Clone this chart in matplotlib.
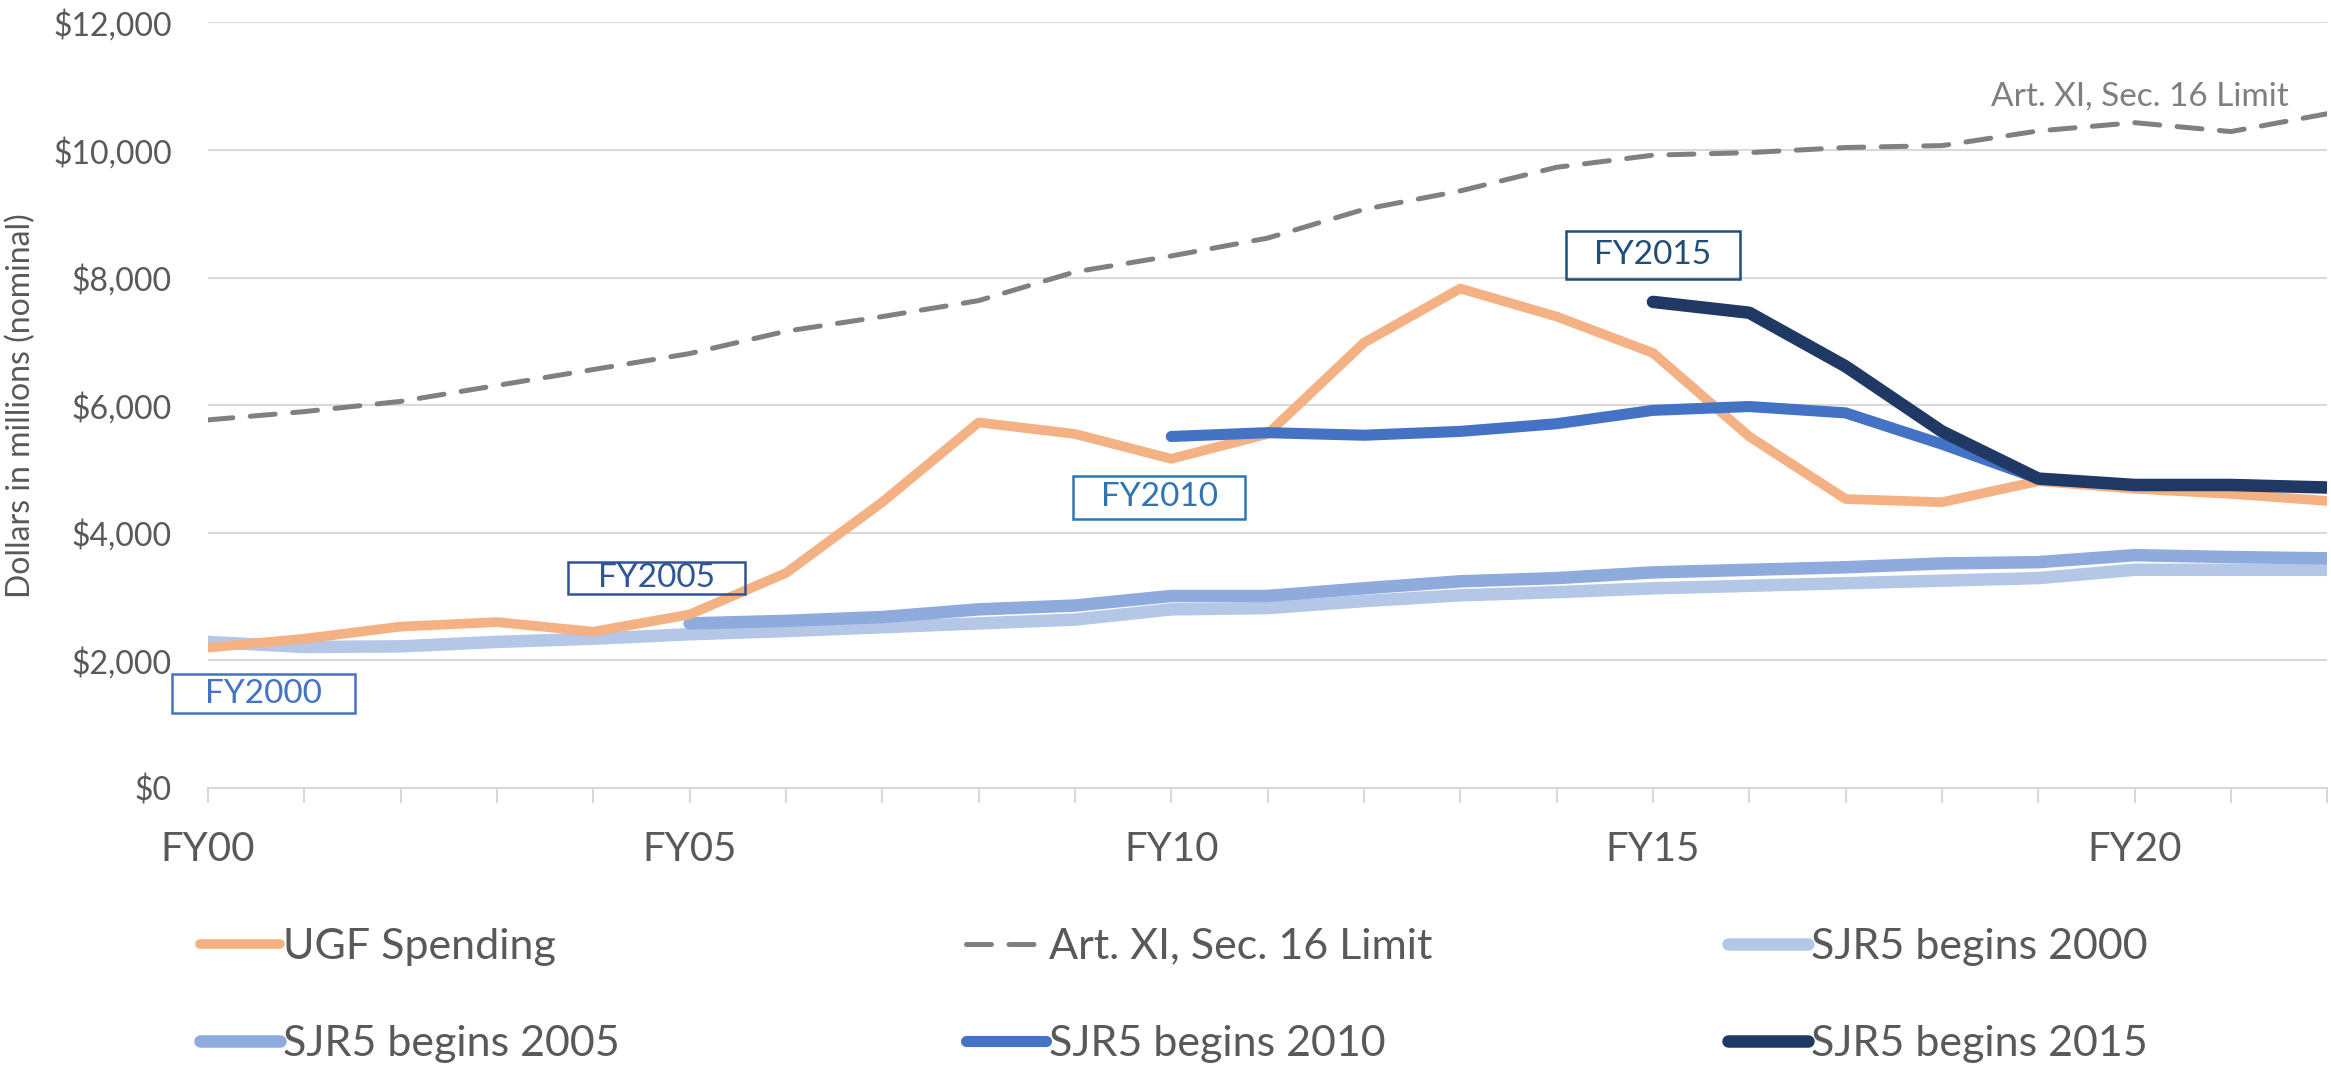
import numpy as np
import matplotlib
matplotlib.use("Agg")
import matplotlib.pyplot as plt
from matplotlib.patches import Rectangle

plt.rcParams['font.family'] = ['Lato', 'DejaVu Sans']

# fiscal years FY00..FY22
years = list(range(23))
tick_labels = ["FY00", "FY05", "FY10", "FY15", "FY20"]

ugf = [2200, 2340, 2530, 2600, 2450, 2720, 3370, 4480, 5730, 5550, 5160, 5550,
       6980, 7830, 7390, 6820, 5510, 4530, 4480, 4810, 4690, 4610, 4500]
limit = [5770, 5900, 6060, 6310, 6560, 6810, 7160, 7390, 7640, 8090, 8340, 8620,
         9070, 9360, 9730, 9920, 9960, 10040, 10070, 10300, 10430, 10290, 10570]
sjr2000 = [2290, 2210, 2220, 2290, 2340, 2410, 2460, 2520, 2580, 2640, 2800, 2820,
           2930, 3020, 3070, 3130, 3170, 3210, 3250, 3290, 3420, 3420, 3420]
sjr2005 = [np.nan] * 5 + [2580, 2620, 2680, 2800, 2860, 3010, 3010, 3130, 3240,
                          3290, 3380, 3420, 3460, 3520, 3540, 3650, 3620, 3600]
sjr2010 = [np.nan] * 10 + [5510, 5570, 5530, 5590, 5710, 5920, 5980, 5880, 5390,
                           4850, 4750, 4750, 4710]
sjr2015 = [np.nan] * 15 + [7620, 7450, 6610, 5590, 4850, 4750, 4750, 4710]

# text boxes: label, text colour, (x0, x1) in years, (y0, y1) in dollars
boxes = [("FY2000", "#4472C4", (-0.37, 1.53), (1170, 1790)),
         ("FY2005", "#2F5597", (3.74, 5.57), (3040, 3540)),
         ("FY2010", "#2E75B6", (8.98, 10.77), (4220, 4890)),
         ("FY2015", "#1F4E79", (14.1, 15.9), (7980, 8730))]

fig = plt.figure(figsize=(23.31, 10.66), dpi=100)
ax = fig.add_axes([0.0892, 0.2608, 0.9092, 0.7181])

l_ugf, = ax.plot(years, ugf, color="#F4B183", lw=7, solid_joinstyle="round",
                 solid_capstyle="round", zorder=3)
l_lim, = ax.plot(years, limit, color="#808080", lw=3.6, dashes=(5, 3.5),
                 dash_capstyle="round", zorder=3)
l_00, = ax.plot(years, sjr2000, color="#B4C7E7", lw=9, solid_capstyle="round",
                solid_joinstyle="round", zorder=2)
l_05, = ax.plot(years, sjr2005, color="#8FAADC", lw=9, solid_capstyle="round",
                solid_joinstyle="round", zorder=2.5)
l_10, = ax.plot(years, sjr2010, color="#4472C4", lw=8, solid_capstyle="round",
                solid_joinstyle="round", zorder=4)
l_15, = ax.plot(years, sjr2015, color="#203864", lw=9, solid_capstyle="round",
                solid_joinstyle="round", zorder=5)

ax.set_xlim(0, 22)
ax.set_ylim(0, 12000)
ax.set_yticks(range(0, 12001, 2000))
ax.set_yticklabels(["${:,}".format(v) for v in range(0, 12001, 2000)])
ax.set_xticks(years)
ax.set_xticklabels([tick_labels[i // 5] if i % 5 == 0 else "" for i in years])
ax.grid(axis="y", color="#D9D9D9", lw=1.5, zorder=0)
for s in ["top", "right", "left"]:
    ax.spines[s].set_visible(False)
ax.spines["bottom"].set_color("#D9D9D9")
ax.spines["bottom"].set_linewidth(1.5)
ax.tick_params(axis="y", length=0, pad=26, labelsize=23, labelcolor="#595959")
ax.tick_params(axis="x", length=11, width=1.5, color="#D9D9D9", pad=20,
               labelsize=29, labelcolor="#595959")
ax.set_ylabel("Dollars in millions (nominal)", fontsize=23, color="#595959")
ax.yaxis.set_label_coords(-0.081, 0.5)

for label, col, (x0, x1), (y0, y1) in boxes:
    ax.add_patch(Rectangle((x0, y0), x1 - x0, y1 - y0, fill=False,
                           edgecolor=col, lw=1.8, clip_on=False, zorder=6))
    ax.text((x0 + x1) / 2, (y0 + y1) / 2, label, color=col, fontsize=24,
            ha="center", va="center", zorder=7)

ax.text(0.9816, 0.903, "Art. XI, Sec. 16 Limit", transform=ax.transAxes,
        color="#7F7F7F", fontsize=24, ha="right", va="center")

# legend: three columns, two rows
cols = [([l_ugf, l_05], ["UGF Spending", "SJR5 begins 2005"], 0.0785),
        ([l_lim, l_10], ["Art. XI, Sec. 16 Limit", "SJR5 begins 2010"], 0.407),
        ([l_00, l_15], ["SJR5 begins 2000", "SJR5 begins 2015"], 0.734)]
for hs, labs, x in cols:
    leg = fig.legend(hs, labs, loc="upper left", bbox_to_anchor=(x, 0.146),
                     frameon=False, fontsize=31, handlelength=1.85,
                     handletextpad=0.07, labelspacing=1.37, borderaxespad=0)
    for t in leg.get_texts():
        t.set_color("#595959")

fig.savefig("out.png", dpi=100)
